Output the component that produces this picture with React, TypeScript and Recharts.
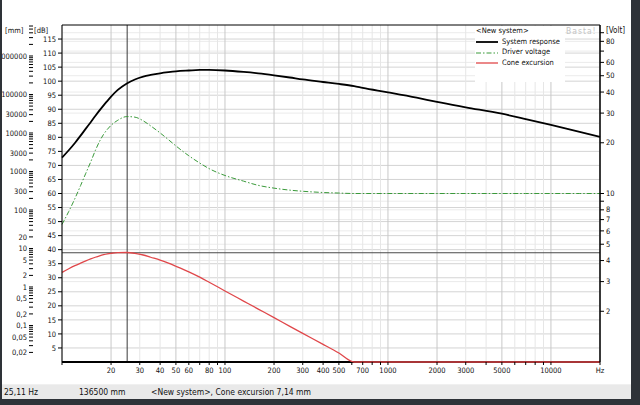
import { ComposedChart, Line, XAxis, YAxis, ReferenceLine, Legend } from "recharts"

const FONT = '"Liberation Sans Narrow", "DejaVu Sans Condensed", "Liberation Sans", sans-serif'

// frequency points [Hz]
const freqs = [10, 11, 12, 13, 14, 15, 16, 17, 18, 19, 20, 22, 25, 28, 31.5, 35, 40, 45, 50, 60, 70, 80, 100, 130, 160, 200, 250, 300, 400, 500, 620, 700, 1000, 1500, 2000, 3000, 5000, 7000, 10000, 15000, 20000]
// System response [dB]
const systemResponse = [72.8, 75.4, 78.0, 80.6, 83.1, 85.4, 87.6, 89.6, 91.4, 93.0, 94.5, 96.9, 99.2, 100.6, 101.6, 102.2, 102.8, 103.2, 103.5, 103.8, 104.0, 104.0, 103.8, 103.3, 102.8, 102.1, 101.3, 100.6, 99.7, 99.0, 98.2, 97.6, 96.0, 94.1, 92.6, 90.7, 88.4, 86.5, 84.4, 81.9, 80.2]
// Driver voltage [Volt]
const driverVoltage = [6.55, 7.82, 9.33, 11.14, 13.19, 15.39, 17.96, 20.39, 22.45, 24.06, 25.39, 27.21, 28.61, 28.39, 27.0, 25.19, 22.88, 20.86, 19.16, 16.75, 15.16, 14.04, 12.79, 11.84, 11.18, 10.76, 10.47, 10.31, 10.14, 10.06, 10, 10, 10, 10, 10, 10, 10, 10, 10, 10, 10]
// Cone excursion (lower panel scale)
const coneExcursion = [31.9, 33.2, 34.3, 35.2, 36.0, 36.7, 37.3, 37.8, 38.2, 38.5, 38.7, 38.95, 39.0, 38.7, 38.1, 37.3, 36.3, 35.2, 34.1, 32.1, 30.2, 28.4, 25.3, 21.7, 18.85, 15.8, 12.7, 10.2, 6.3, 3.2, 0, 0, 0, 0, 0, 0, 0, 0, 0, 0, 0]

const cursorHz = 25.11
const panelSplit = 38.9

const dbTicks = [5, 10, 15, 20, 25, 30, 35, 40, 45, 50, 55, 60, 65, 70, 75, 80, 85, 90, 95, 100, 105, 110, 115]
const hzLabels = [20, 30, 40, 50, 60, 80, 100, 200, 300, 400, 500, 700, 1000, 2000, 3000, 5000, 10000]
const voltLabels = [2, 3, 4, 5, 6, 7, 8, 10, 20, 30, 40, 50, 60, 80]
const meterLabels = [30, 20, 10, 8, 7, 6, 5, 4, 3, 2, 1, 0.8, 0.6, 0.5, 0.4, 0.3, 0.2, 0.1, 0.08, 0.05, 0.03]
const mmLabels = [1000000, 100000, 30000, 10000, 3000, 1000, 300, 100, 20, 10, 5, 2, 1, 0.5, 0.2, 0.1, 0.05, 0.02]

const series = [
  { key: "spl", name: "System response", color: "#000000", width: 1.8, dash: undefined as string | undefined, axis: "db" },
  { key: "volt", name: "Driver voltage", color: "#3a9a3a", width: 1, dash: "5 2 1.5 2", axis: "volt" },
  { key: "exc", name: "Cone excursion", color: "#e0474a", width: 1.3, dash: undefined as string | undefined, axis: "db" },
]

const data = freqs.map((f, i) => ({ f, spl: systemResponse[i], volt: driverVoltage[i], exc: coneExcursion[i] }))

function logTicks(lo: number, hi: number) {
  const out: number[] = []
  for (let e = Math.floor(Math.log10(lo)); e <= Math.ceil(Math.log10(hi)); e++) {
    for (let m = 1; m < 10; m++) {
      const v = +(m * Math.pow(10, e)).toPrecision(6)
      if (v >= lo * 0.999 && v <= hi * 1.001) out.push(v)
    }
  }
  return out
}

const near = (a: number, b: number) => Math.abs(a - b) / b < 0.001
const comma = (v: number) => String(v).replace(".", ",")

const freqTicks = logTicks(10, 20000)
const wavelengths = logTicks(0.02, 30)
const topTicks = wavelengths.map((w) => 343 / w)
const voltTicks = logTicks(2, 90)
const mmTicks = logTicks(0.02, 6000000)

const tickStyle = { fontSize: 7.5, fill: "#111", fontFamily: FONT }

export default function App() {
  return (
    <div style={{ position: "absolute", left: 0, top: 0, width: 640, height: 405, background: "#2e3238", overflow: "hidden", fontFamily: FONT }}>
      <div style={{ position: "absolute", left: 2, top: 0, width: 629, height: 399, background: "#f0f0f0", overflow: "hidden" }}>
        <div style={{ position: "absolute", left: 0, top: 0, width: 629, height: 384, background: "#fff" }}>
          <ComposedChart width={629} height={384} data={data} margin={{ top: 0, right: 0, bottom: 0, left: 0 }}>
            <XAxis
              dataKey="f" type="number" scale="log" domain={[10, 20000]}
              ticks={freqTicks} interval={0} height={22} tickSize={3} tickMargin={3}
              tick={tickStyle} stroke="#000" axisLine={false}
              tickFormatter={(v: number) => (near(v, 20000) ? "Hz" : hzLabels.some((l) => near(v, l)) ? String(v) : "")}
            />
            <XAxis
              xAxisId="top" orientation="top" type="number" scale="log" domain={[10, 20000]} allowDataOverflow
              ticks={topTicks} interval={0} height={25} tickSize={4} tickMargin={2}
              tick={tickStyle} stroke="#000"
              tickFormatter={(v: number) => {
                const w = 343 / v
                if (near(w, 0.02)) return "[m]"
                const l = meterLabels.find((m) => near(w, m))
                return l === undefined ? "" : comma(l)
              }}
            />
            <YAxis
              yAxisId="db" type="number" domain={[0, 120]} width={29}
              ticks={dbTicks} interval={0} tickSize={4} tickMargin={2} tick={tickStyle} stroke="#000"
            />
            <YAxis
              yAxisId="mm" type="number" scale="log" domain={[0.01127, 6380000]} allowDataOverflow width={31}
              ticks={mmTicks} interval={0} tickSize={4} tickMargin={2} tick={tickStyle} stroke="#000" axisLine={false}
              tickFormatter={(v: number) => {
                const l = mmLabels.find((m) => near(v, m))
                return l === undefined ? "" : comma(l)
              }}
            />
            <YAxis
              yAxisId="volt" orientation="right" type="number" scale="log" domain={[1, 100]} allowDataOverflow width={31}
              ticks={voltTicks} interval={0} tickSize={4} tickMargin={2} tick={tickStyle} stroke="#000"
              axisLine={{ stroke: "#000", strokeWidth: 1.5 }}
              tickFormatter={(v: number) => (voltLabels.some((l) => near(v, l)) ? String(v) : "")}
            />

            {voltTicks.map((v) => (
              <ReferenceLine key={"hv" + v} yAxisId="volt" y={v} stroke="#ebebeb" strokeWidth={1} />
            ))}
            {dbTicks.map((v) => (
              <ReferenceLine key={"hd" + v} yAxisId="db" y={v} stroke="#d4d4d4" strokeWidth={1} />
            ))}
            {freqTicks.map((f) => {
              const m = Math.round(f / Math.pow(10, Math.floor(Math.log10(f))))
              const major = m === 1 || m === 2 || m === 5
              return <ReferenceLine key={"v" + f} yAxisId="db" x={f} stroke={major ? "#c8c8c8" : "#e6e6e6"} strokeWidth={1} />
            })}
            <ReferenceLine yAxisId="db" y={panelSplit} stroke="#4a4a4a" strokeWidth={1} />
            <ReferenceLine yAxisId="db" x={cursorHz} stroke="#3a3a3a" strokeWidth={1} />
            <ReferenceLine yAxisId="db" y={0} stroke="#000" strokeWidth={2.2} ifOverflow="visible" />

            {series.map((s) => (
              <Line
                key={s.key} yAxisId={s.axis} dataKey={s.key} name={s.name} type="monotone"
                stroke={s.color} strokeWidth={s.width} strokeDasharray={s.dash}
                dot={false} activeDot={false} isAnimationActive={false}
              />
            ))}

            <Legend
              layout="horizontal" verticalAlign="middle" align="center"
              wrapperStyle={{ left: 473, top: 26, width: 90, height: 56, background: "#fff" }}
              content={() => (
                <div style={{ fontFamily: FONT, fontSize: 7.5, color: "#111", lineHeight: "10.7px", paddingLeft: 1, whiteSpace: "nowrap" }}>
                  <div>&lt;New system&gt;</div>
                  {series.map((s) => (
                    <div key={s.key} style={{ display: "flex", alignItems: "center" }}>
                      <svg width={24} height={6} style={{ marginRight: 2 }}>
                        <line x1={0} y1={3} x2={22} y2={3} stroke={s.color} strokeWidth={s.width} strokeDasharray={s.dash} />
                      </svg>
                      <span>{s.name}</span>
                    </div>
                  ))}
                </div>
              )}
            />
          </ComposedChart>

          <div style={{ position: "absolute", left: 3, top: 26, fontSize: 7.5, color: "#111" }}>[mm]</div>
          <div style={{ position: "absolute", left: 32, top: 26, fontSize: 7.5, color: "#111" }}>[dB]</div>
          <div style={{ position: "absolute", left: 604, top: 26, fontSize: 8, color: "#111" }}>[Volt]</div>
          <div style={{ position: "absolute", left: 564, top: 26, fontSize: 8.5, color: "#c4c4c4", letterSpacing: 1 }}>Basta!</div>
        </div>

        <div style={{ position: "absolute", left: 0, top: 385, width: 629, height: 14, fontSize: 8.5, color: "#111", lineHeight: "14px" }}>
          <div style={{ position: "absolute", left: 0, width: 72, height: 14, background: "#e9e9e9", borderRight: "1px solid #cfcfcf", paddingLeft: 2 }}>25,11 Hz</div>
          <div style={{ position: "absolute", left: 74, width: 70, height: 14, background: "#e9e9e9", borderRight: "1px solid #cfcfcf", paddingLeft: 3 }}>136500 mm</div>
          <div style={{ position: "absolute", left: 146, width: 483, height: 14, background: "#e9e9e9", paddingLeft: 3 }}>&lt;New system&gt;, Cone excursion 7,14 mm</div>
        </div>
      </div>
    </div>
  )
}
